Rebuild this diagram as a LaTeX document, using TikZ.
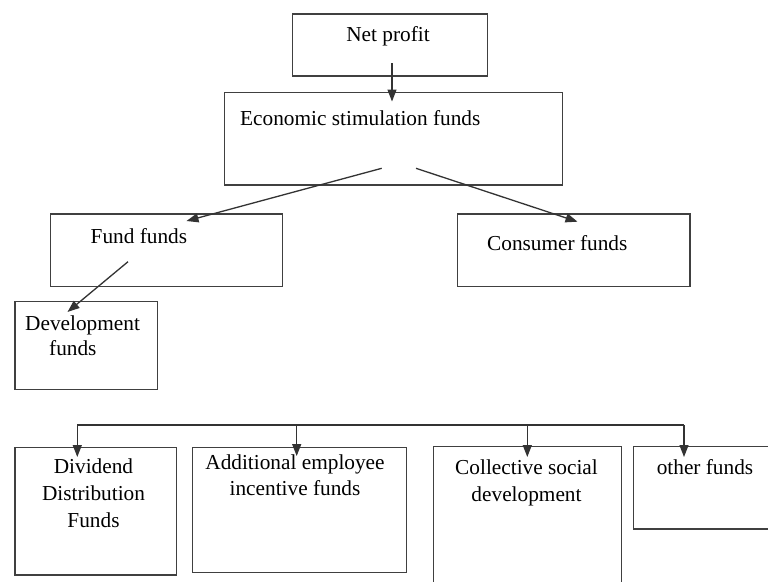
\documentclass[tikz,border=0pt]{standalone}
\usepackage{fontspec}
\setmainfont{Liberation Serif}
\usetikzlibrary{arrows.meta}
\begin{document}
\begin{tikzpicture}[x=1pt,y=-1pt,
  box/.style={draw=black!75, line width=1.3pt, inner sep=0pt, rectangle},
  lbl/.style={inner sep=0pt, anchor=base, font=\fontsize{21.3}{26.5}\selectfont},
  lbll/.style={lbl, anchor=base west},
  conn/.style={draw=black!80, line width=1.3pt},
  arr/.style={conn, -{Triangle[length=12pt,width=9pt]}}]
\clip (0,0) rectangle (768,581);
\fill[white] (0,0) rectangle (768,581);
% boxes
\node[box, minimum width=195pt, minimum height=62pt] (np) at (390.2,45) {};
\node[box, minimum width=337.6pt, minimum height=92.3pt] (esf) at (393.5,138.85) {};
\node[box, minimum width=232pt, minimum height=72.7pt] (ff) at (166.7,250.3) {};
\node[box, minimum width=142.3pt, minimum height=87.6pt] (dev) at (86.2,345.5) {};
\node[box, minimum width=232.7pt, minimum height=72.7pt] (cf) at (573.7,250.3) {};
\node[box, minimum width=161.7pt, minimum height=127.7pt] (div) at (95.85,511.15) {};
\node[box, minimum width=214pt, minimum height=125.4pt] (add) at (299.7,510) {};
\node[box, minimum width=188.4pt, minimum height=153.3pt] (col) at (527.5,523.35) {};
\node[box, minimum width=166.7pt, minimum height=82.3pt] (oth) at (716.65,487.85) {};
% labels
\node[lbl] (tnp) at (388,41) {Net profit};
\node[lbll] (tesf) at (240,125) {Economic stimulation funds};
\node[lbll] (tff) at (90.5,243) {Fund funds};
\node[lbll] (tdev1) at (25,330) {Development};
\node[lbll] (tdev2) at (49,355) {funds};
\node[lbll] (tcf) at (487,250) {Consumer funds};
\node[lbl] (tdiv1) at (93.5,473) {Dividend};
\node[lbl] (tdiv2) at (93.5,500) {Distribution};
\node[lbl] (tdiv3) at (93.5,527) {Funds};
\node[lbl] (tadd1) at (295,469) {Additional employee};
\node[lbl] (tadd2) at (295,495) {incentive funds};
\node[lbl] (tcol1) at (526.5,474) {Collective social};
\node[lbl] (tcol2) at (526.5,501) {development};
\node[lbl] (toth) at (705,474) {other funds};
% connector points
\coordinate (s1) at (392,63);
\coordinate (e1) at (392,101.5);
\coordinate (s2) at (381.7,168.3);
\coordinate (e2) at (186.5,221);
\coordinate (s3) at (416,168.3);
\coordinate (e3) at (577.5,221.7);
\coordinate (s4) at (128,261.7);
\coordinate (e4) at (67.5,312);
\coordinate (b1) at (77.3,425);
\coordinate (b2) at (296.7,425);
\coordinate (b3) at (527.3,425);
\coordinate (b4) at (684,425);
\coordinate (t1) at (77.3,457);
\coordinate (t2) at (296.7,456);
\coordinate (t3) at (527.3,457);
\coordinate (t4) at (684,457);
% connectors
\draw[arr] (s1) -- (e1);
\draw[arr] (s2) -- (e2);
\draw[arr] (s3) -- (e3);
\draw[arr] (s4) -- (e4);
\draw[conn] (b1) -- (b4);
\draw[arr] (b1) -- (t1);
\draw[arr] (b2) -- (t2);
\draw[arr] (b3) -- (t3);
\draw[arr] (b4) -- (t4);
\end{tikzpicture}
\end{document}
